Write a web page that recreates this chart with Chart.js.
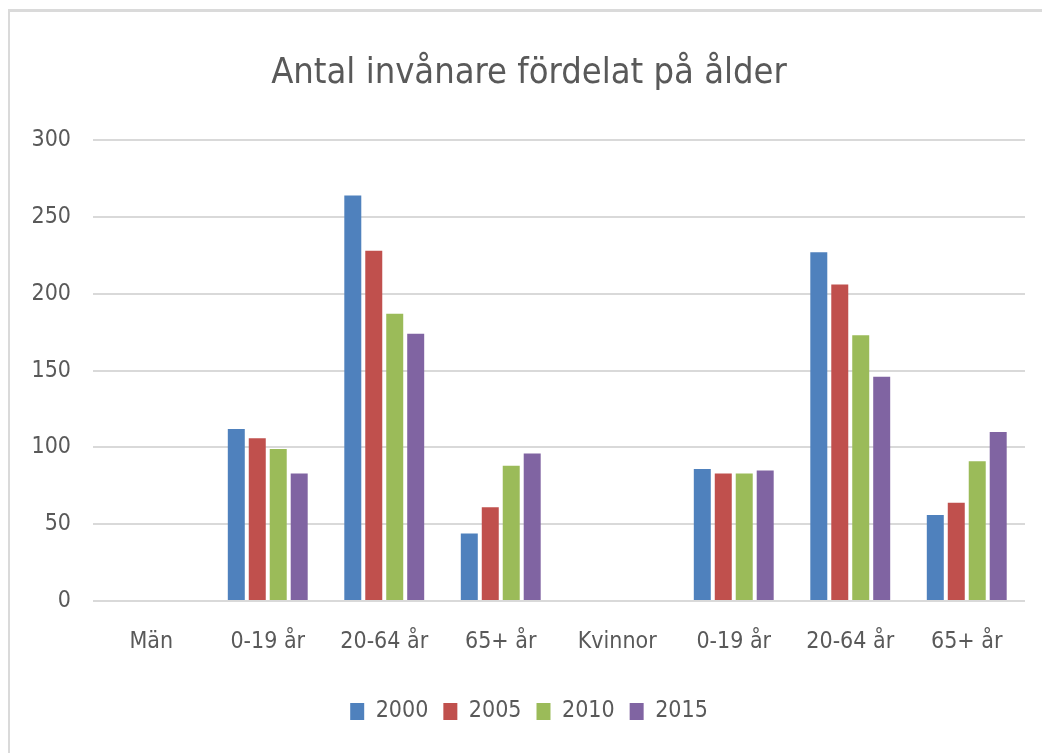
<!DOCTYPE html>
<html lang="sv">
<head>
  <meta charset="UTF-8" />
  <title>Antal invånare fördelat på ålder</title>
  <script src="https://cdn.jsdelivr.net/npm/chart.js"></script>
  <style>
    html, body { margin: 0; padding: 0; background: #fff; }
    .wrap { position: relative; width: 1042px; height: 753px; overflow: hidden; }
    /* chart frame, only top and left edges show in the crop */
    .frame {
      position: absolute; left: 8px; top: 9px; width: 1100px; height: 800px;
      border-top: 3px solid #dadada; border-left: 2px solid #dadada;
    }
    #chart { position: absolute; left: 0; top: 0; }
  </style>
</head>
<body>
  <div class="wrap">
    <div class="frame"></div>
    <canvas id="chart" width="1042" height="753"></canvas>
  </div>

  <script>
    // --- data ---
    const categories = ['Män', '0-19 år', '20-64 år', '65+ år', 'Kvinnor', '0-19 år', '20-64 år', '65+ år'];
    const years = ['2000', '2005', '2010', '2015'];
    const v2000 = [null, 112, 264, 44, null, 86, 227, 56];
    const v2005 = [null, 106, 228, 61, null, 83, 206, 64];
    const v2010 = [null, 99, 187, 88, null, 83, 173, 91];
    const v2015 = [null, 83, 174, 96, null, 85, 146, 110];
    const yTicks = [0, 50, 100, 150, 200, 250, 300];

    const colors = ['#4F81BD', '#C0504D', '#9BBB59', '#8064A2'];
    const font = "'DejaVu Sans Condensed', 'Liberation Sans Narrow', sans-serif";
    const textColor = '#595959';

    const series = [v2000, v2005, v2010, v2015];

    new Chart(document.getElementById('chart'), {
      type: 'bar',
      data: {
        labels: categories,
        datasets: series.map((vals, i) => ({
          label: years[i],
          data: vals,
          backgroundColor: colors[i],
          borderWidth: 0,
          categoryPercentage: 0.72,
          barPercentage: 0.81
        }))
      },
      options: {
        responsive: false,
        animation: false,
        layout: { padding: { left: 33, right: 17, top: 0, bottom: 20 } },
        plugins: {
          title: {
            display: true,
            text: 'Antal invånare fördelat på ålder',
            color: textColor,
            font: { family: font, size: 36, weight: 'normal' },
            padding: { top: 52, bottom: 45 }
          },
          legend: {
            position: 'bottom',
            labels: {
              color: textColor,
              font: { family: font, size: 23 },
              boxWidth: 14,
              boxHeight: 17,
              padding: 15
            }
          },
          tooltip: { enabled: false }
        },
        scales: {
          x: {
            grid: { display: false, drawTicks: false },
            border: { display: false },
            afterFit: (scale) => { scale.height = 84; },
            ticks: {
              color: textColor,
              font: { family: font, size: 23 },
              padding: 27,
              maxRotation: 0,
              autoSkip: false
            }
          },
          y: {
            min: yTicks[0],
            max: yTicks[yTicks.length - 1],
            afterBuildTicks: (scale) => { scale.ticks = yTicks.map(v => ({ value: v })); },
            afterFit: (scale) => { scale.width = 60; },
            grid: { color: '#d9d9d9', lineWidth: 2, drawTicks: false },
            border: { display: false },
            ticks: {
              color: textColor,
              font: { family: font, size: 23 },
              padding: 22
            }
          }
        }
      }
    });
  </script>
</body>
</html>
